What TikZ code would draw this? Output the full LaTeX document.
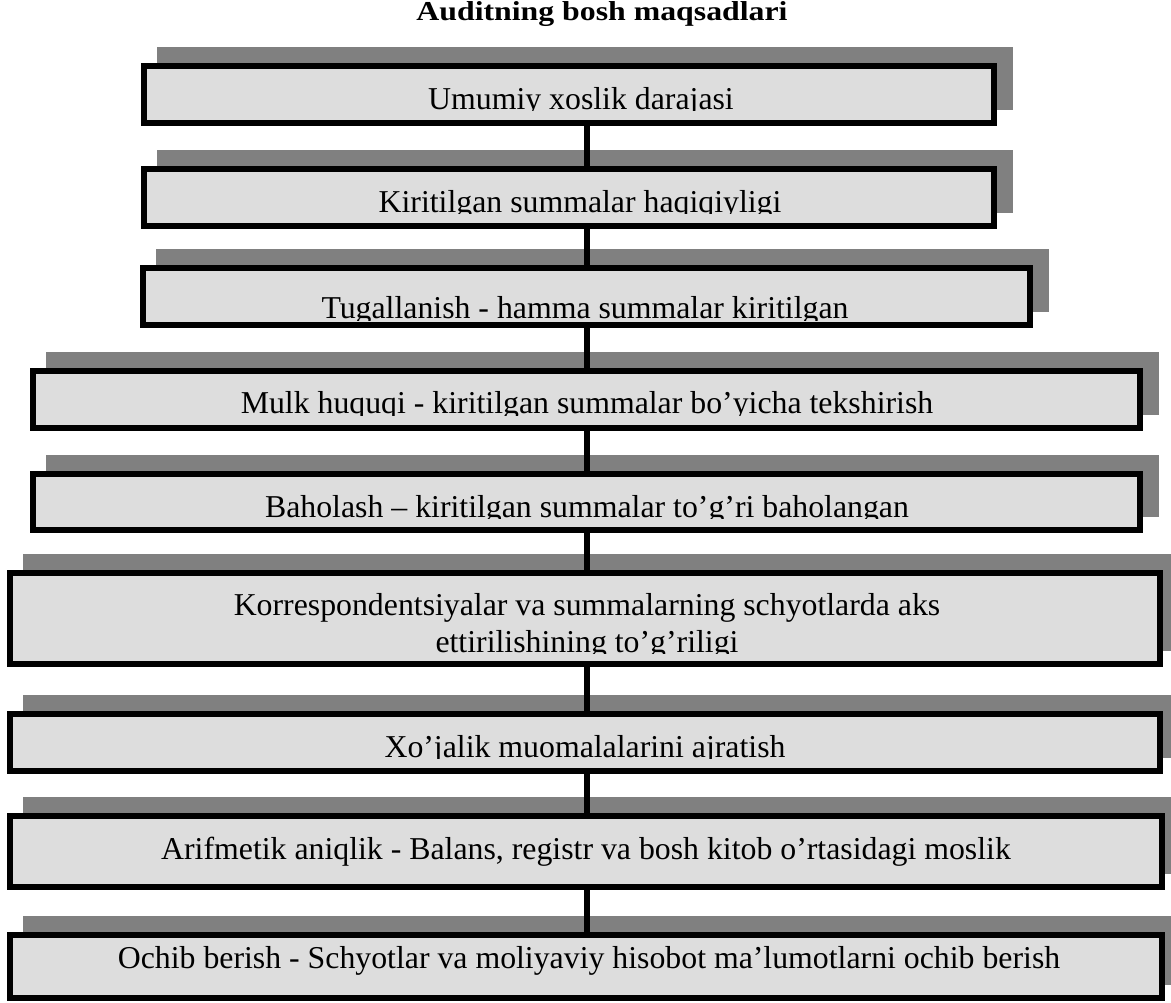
\documentclass[tikz,border=0pt]{standalone}
\usepackage{fontspec}
\setmainfont{Liberation Serif}
\usetikzlibrary{shadows}
\definecolor{boxfill}{HTML}{DDDDDD}
\definecolor{shadowgray}{HTML}{808080}

% one goal: framed grey box with a drop shadow; its text is cut off
% by the inside of the frame and by a lower edge (#6)
\newcommand\goalbox[7]{%
  \node[goal, minimum width=#3pt-6pt, minimum height=#4pt-6pt] (#1) at (#2) {};
  \begin{scope}
    \clip ([xshift=6pt,yshift=-6pt]#1.north west) rectangle ([xshift=-6pt,yshift=6pt]#1.south east);
    \clip (0,0) rectangle (1171,#6);
    \node[goaltext] at (#5) {#7};
  \end{scope}}

\begin{document}
\begin{tikzpicture}[x=1pt, y=-1pt,
  goal/.style={draw=black, line width=6pt, fill=boxfill, inner sep=0pt,
    general shadow={shadow xshift=16pt, shadow yshift=16pt,
      fill=shadowgray, draw=shadowgray, line width=6pt}},
  goaltext/.style={anchor=base, inner sep=0pt, font=\fontsize{31.8}{36}\selectfont},
  heading/.style={anchor=base, inner sep=0pt, font=\fontsize{31.8}{36}\selectfont\bfseries},
  link/.style={line width=5.5pt}]
\useasboundingbox (0,0) rectangle (1171,1003);
\clip (0,0) rectangle (1171,1003);

\node[heading] (title) at (602,21) {\scalebox{1}[0.86]{Auditning bosh maqsadlari}};

\goalbox{b1}{569,94.5}{856}{63}{581,109.5}{111}{Umumiy xoslik darajasi}
\goalbox{b2}{569,197.5}{856}{63}{580,212.5}{214}{Kiritilgan summalar haqiqiyligi}
\goalbox{b3}{586.5,296.5}{893}{63}{585,319}{320.5}{Tugallanish - hamma summalar kiritilgan}
\goalbox{b4}{586.5,399.5}{1113}{63}{587,413.5}{415}{Mulk huquqi - kiritilgan summalar bo’yicha tekshirish}
\goalbox{b5}{586.5,502}{1113}{62}{587,517}{518.5}{Baholash – kiritilgan summalar to’g’ri baholangan}
\goalbox{b6}{585,618.5}{1156}{97}{587,615}{1003}{Korrespondentsiyalar va summalarning schyotlarda aks}
\begin{scope}
  \clip ([xshift=6pt,yshift=-6pt]b6.north west) rectangle ([xshift=-6pt,yshift=6pt]b6.south east);
  \clip (0,0) rectangle (1171,653.5);
  \node[goaltext] (b6second) at (587,652) {ettirilishining to’g’riligi};
\end{scope}
\goalbox{b7}{585,742.5}{1156}{63}{585,757}{758.5}{Xo’jalik muomalalarini ajratish}
\goalbox{b8}{586,851.5}{1158}{77}{586,859}{1003}{Arifmetik aniqlik - Balans, registr va bosh kitob o’rtasidagi moslik}
\goalbox{b9}{586,966.5}{1158}{69}{589,968}{1003}{Ochib berish - Schyotlar va moliyaviy hisobot ma’lumotlarni ochib berish}

% vertical spine joining consecutive goals
\coordinate (spine) at (587,0);
\foreach \a/\b in {b1/b2,b2/b3,b3/b4,b4/b5,b5/b6,b6/b7,b7/b8,b8/b9}
  \draw[link] (\a.south -| spine) -- (\b.north -| spine);
\end{tikzpicture}
\end{document}
